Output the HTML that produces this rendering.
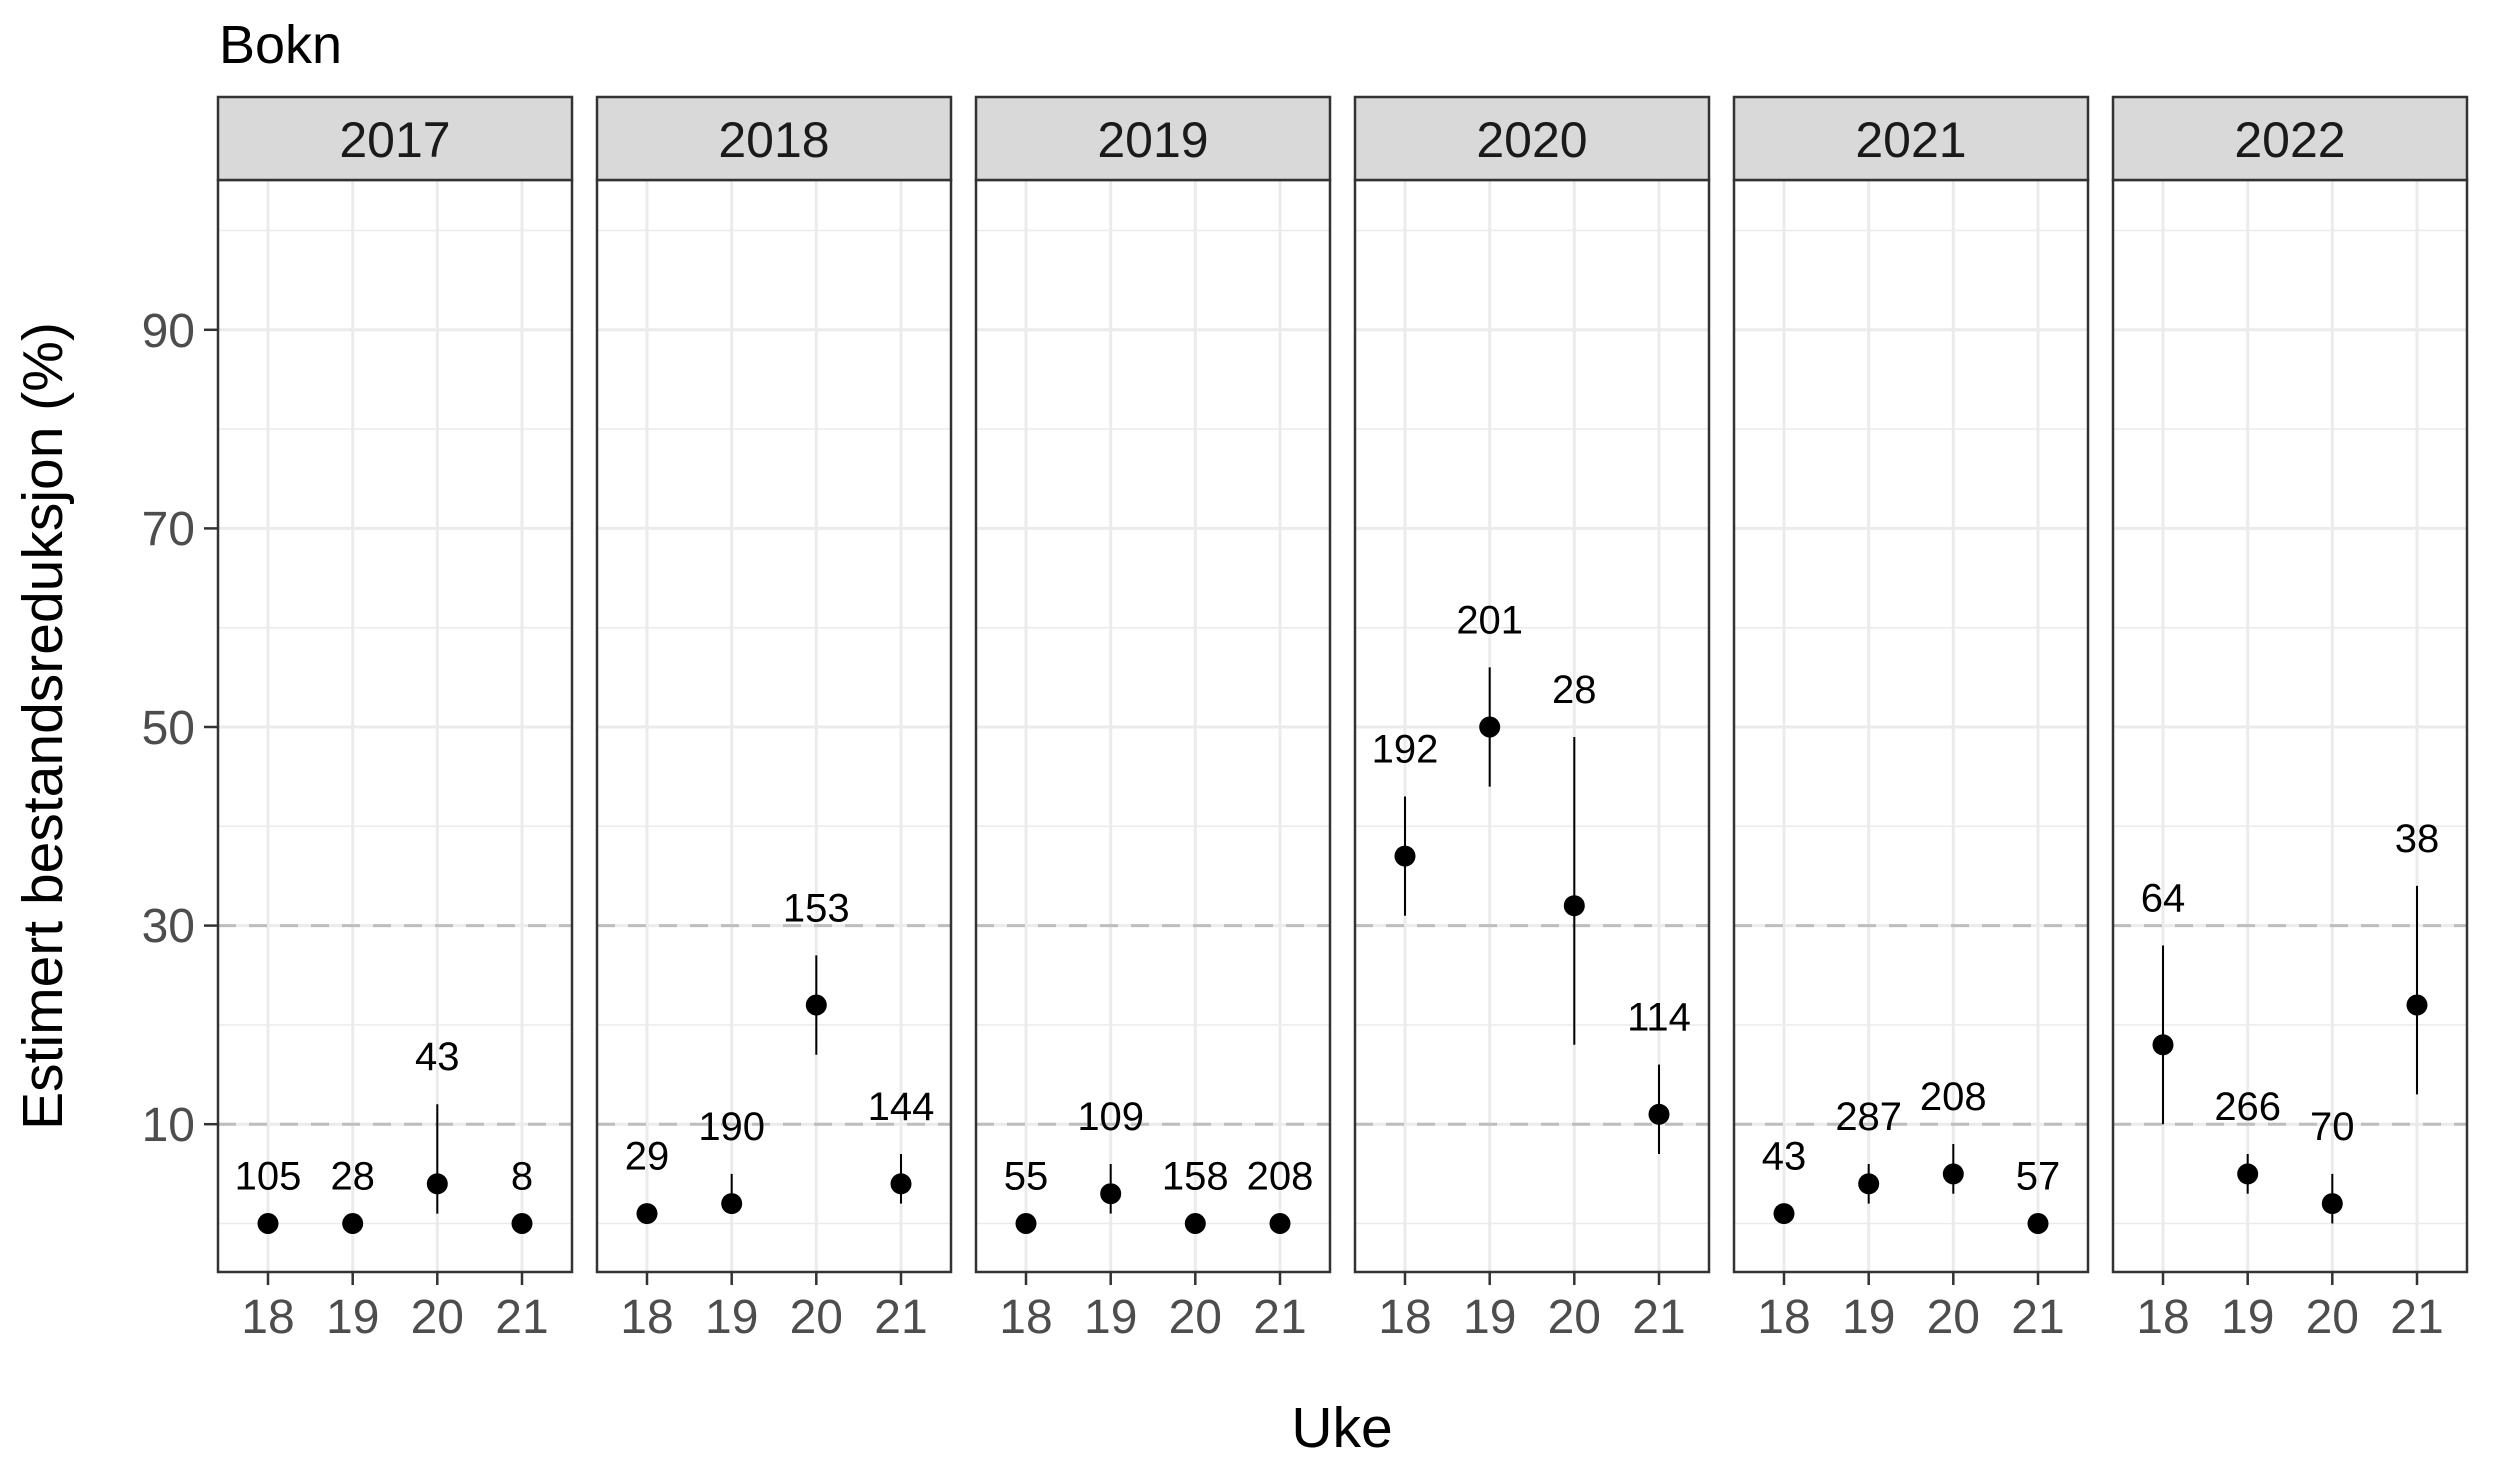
<!DOCTYPE html>
<html><head><meta charset="utf-8"><style>html,body{margin:0;padding:0;background:#fff}svg{display:block}</style></head>
<body>
<svg width="2495" height="1482" viewBox="0 0 2495 1482" xmlns="http://www.w3.org/2000/svg" font-family="Liberation Sans, Arial, sans-serif">
<defs>
<g id="grid">
<rect x="0" y="180" width="354" height="1092" fill="#fff"/>
<g stroke="#ebebeb" stroke-width="1.5">
<line x1="0" x2="354" y1="1223.5" y2="1223.5"/><line x1="0" x2="354" y1="1024.9" y2="1024.9"/><line x1="0" x2="354" y1="826.3" y2="826.3"/><line x1="0" x2="354" y1="627.7" y2="627.7"/><line x1="0" x2="354" y1="429.1" y2="429.1"/><line x1="0" x2="354" y1="230.5" y2="230.5"/>
</g>
<g stroke="#ebebeb" stroke-width="3">
<line x1="0" x2="354" y1="1124.2" y2="1124.2"/><line x1="0" x2="354" y1="925.6" y2="925.6"/><line x1="0" x2="354" y1="727" y2="727"/><line x1="0" x2="354" y1="528.4" y2="528.4"/><line x1="0" x2="354" y1="329.8" y2="329.8"/>
<line x1="50" x2="50" y1="180" y2="1272"/><line x1="134.7" x2="134.7" y1="180" y2="1272"/><line x1="219.3" x2="219.3" y1="180" y2="1272"/><line x1="304" x2="304" y1="180" y2="1272"/>
</g>
<g stroke="#bebebe" stroke-width="3" stroke-dasharray="18,13">
<line x1="0" x2="354" y1="1124.2" y2="1124.2"/><line x1="0" x2="354" y1="925.6" y2="925.6"/>
</g>
</g>
<g id="frame">
<rect x="0" y="180" width="354" height="1092" fill="none" stroke="#333" stroke-width="2.5"/>
<rect x="0" y="97" width="354" height="83" fill="#d9d9d9" stroke="#333" stroke-width="2.5"/>
<g stroke="#333" stroke-width="2.5">
<line x1="50" x2="50" y1="1272" y2="1285"/><line x1="134.7" x2="134.7" y1="1272" y2="1285"/><line x1="219.3" x2="219.3" y1="1272" y2="1285"/><line x1="304" x2="304" y1="1272" y2="1285"/>
</g>
<g fill="#4d4d4d" font-size="48" text-anchor="middle">
<text x="50" y="1333">18</text><text x="134.7" y="1333">19</text><text x="219.3" y="1333">20</text><text x="304" y="1333">21</text>
</g>
</g>
</defs>

<text x="219" y="63" font-size="54" fill="#000">Bokn</text>
<text transform="translate(62,726) rotate(-90)" font-size="57" text-anchor="middle" fill="#000">Estimert bestandsreduksjon (%)</text>
<text x="1342" y="1447" font-size="57" text-anchor="middle" fill="#000">Uke</text>
<g fill="#4d4d4d" font-size="48" text-anchor="end">
<text x="195" y="1141">10</text><text x="195" y="942">30</text><text x="195" y="744">50</text><text x="195" y="545">70</text><text x="195" y="347">90</text>
</g>
<g stroke="#333" stroke-width="2.5">
<line x1="204" x2="218" y1="1124.2" y2="1124.2"/><line x1="204" x2="218" y1="925.6" y2="925.6"/><line x1="204" x2="218" y1="727" y2="727"/><line x1="204" x2="218" y1="528.4" y2="528.4"/><line x1="204" x2="218" y1="329.8" y2="329.8"/>
</g>

<g transform="translate(218,0)">
<use href="#grid"/>
<g stroke="#000" stroke-width="2"><line x1="219.3" x2="219.3" y1="1213.6" y2="1104.3"/></g>
<g fill="#000"><circle cx="50" cy="1223.5" r="10.5"/><circle cx="134.7" cy="1223.5" r="10.5"/><circle cx="219.3" cy="1183.8" r="10.5"/><circle cx="304" cy="1223.5" r="10.5"/></g>
<g font-size="40" text-anchor="middle" fill="#000"><text x="50" y="1189.5">105</text><text x="134.7" y="1189.5">28</text><text x="219.3" y="1070">43</text><text x="304" y="1189.5">8</text></g>
<use href="#frame"/>
<text x="177" y="157" font-size="50" text-anchor="middle" fill="#1a1a1a">2017</text>
</g>
<g transform="translate(597,0)">
<use href="#grid"/>
<g stroke="#000" stroke-width="2"><line x1="50" x2="50" y1="1213.6" y2="1203.6"/><line x1="134.7" x2="134.7" y1="1203.6" y2="1173.9"/><line x1="219.3" x2="219.3" y1="1054.7" y2="955.4"/><line x1="304" x2="304" y1="1203.6" y2="1154"/></g>
<g fill="#000"><circle cx="50" cy="1213.6" r="10.5"/><circle cx="134.7" cy="1203.6" r="10.5"/><circle cx="219.3" cy="1005" r="10.5"/><circle cx="304" cy="1183.8" r="10.5"/></g>
<g font-size="40" text-anchor="middle" fill="#000"><text x="50" y="1169.6">29</text><text x="134.7" y="1140">190</text><text x="219.3" y="921.4">153</text><text x="304" y="1120">144</text></g>
<use href="#frame"/>
<text x="177" y="157" font-size="50" text-anchor="middle" fill="#1a1a1a">2018</text>
</g>
<g transform="translate(976,0)">
<use href="#grid"/>
<g stroke="#000" stroke-width="2"><line x1="134.7" x2="134.7" y1="1213.6" y2="1164"/></g>
<g fill="#000"><circle cx="50" cy="1223.5" r="10.5"/><circle cx="134.7" cy="1193.7" r="10.5"/><circle cx="219.3" cy="1223.5" r="10.5"/><circle cx="304" cy="1223.5" r="10.5"/></g>
<g font-size="40" text-anchor="middle" fill="#000"><text x="50" y="1189.5">55</text><text x="134.7" y="1130">109</text><text x="219.3" y="1189.5">158</text><text x="304" y="1189.5">208</text></g>
<use href="#frame"/>
<text x="177" y="157" font-size="50" text-anchor="middle" fill="#1a1a1a">2019</text>
</g>
<g transform="translate(1355,0)">
<use href="#grid"/>
<g stroke="#000" stroke-width="2"><line x1="50" x2="50" y1="915.7" y2="796.5"/><line x1="134.7" x2="134.7" y1="786.6" y2="667.4"/><line x1="219.3" x2="219.3" y1="1044.8" y2="737"/><line x1="304" x2="304" y1="1154" y2="1064.6"/></g>
<g fill="#000"><circle cx="50" cy="856.1" r="10.5"/><circle cx="134.7" cy="727" r="10.5"/><circle cx="219.3" cy="905.7" r="10.5"/><circle cx="304" cy="1114.3" r="10.5"/></g>
<g font-size="40" text-anchor="middle" fill="#000"><text x="50" y="762.5">192</text><text x="134.7" y="633.4">201</text><text x="219.3" y="703">28</text><text x="304" y="1030.6">114</text></g>
<use href="#frame"/>
<text x="177" y="157" font-size="50" text-anchor="middle" fill="#1a1a1a">2020</text>
</g>
<g transform="translate(1734,0)">
<use href="#grid"/>
<g stroke="#000" stroke-width="2"><line x1="50" x2="50" y1="1213.6" y2="1203.6"/><line x1="134.7" x2="134.7" y1="1203.6" y2="1164"/><line x1="219.3" x2="219.3" y1="1193.7" y2="1144"/></g>
<g fill="#000"><circle cx="50" cy="1213.6" r="10.5"/><circle cx="134.7" cy="1183.8" r="10.5"/><circle cx="219.3" cy="1173.9" r="10.5"/><circle cx="304" cy="1223.5" r="10.5"/></g>
<g font-size="40" text-anchor="middle" fill="#000"><text x="50" y="1169.6">43</text><text x="134.7" y="1130">287</text><text x="219.3" y="1110">208</text><text x="304" y="1189.5">57</text></g>
<use href="#frame"/>
<text x="177" y="157" font-size="50" text-anchor="middle" fill="#1a1a1a">2021</text>
</g>
<g transform="translate(2113,0)">
<use href="#grid"/>
<g stroke="#000" stroke-width="2"><line x1="50" x2="50" y1="1124.2" y2="945.5"/><line x1="134.7" x2="134.7" y1="1193.7" y2="1154"/><line x1="219.3" x2="219.3" y1="1223.5" y2="1173.9"/><line x1="304" x2="304" y1="1094.4" y2="885.9"/></g>
<g fill="#000"><circle cx="50" cy="1044.8" r="10.5"/><circle cx="134.7" cy="1173.9" r="10.5"/><circle cx="219.3" cy="1203.6" r="10.5"/><circle cx="304" cy="1005" r="10.5"/></g>
<g font-size="40" text-anchor="middle" fill="#000"><text x="50" y="911.5">64</text><text x="134.7" y="1120">266</text><text x="219.3" y="1140">70</text><text x="304" y="852">38</text></g>
<use href="#frame"/>
<text x="177" y="157" font-size="50" text-anchor="middle" fill="#1a1a1a">2022</text>
</g>
</svg>
</body></html>
